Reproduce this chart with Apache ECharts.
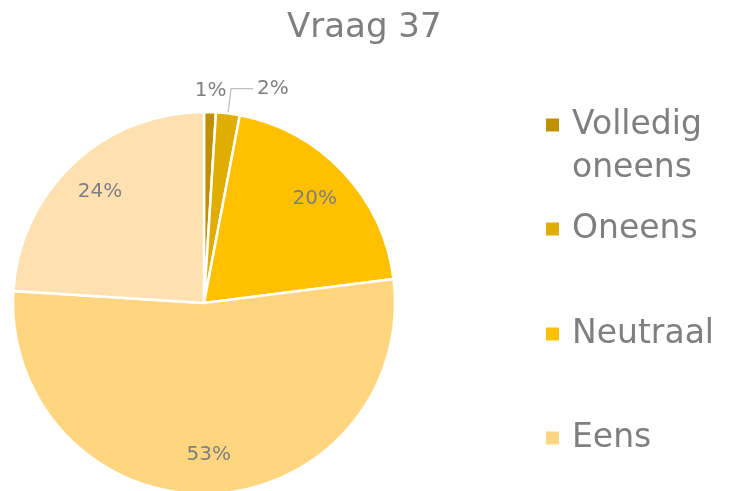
<!DOCTYPE html>
<html>
<head>
<meta charset="utf-8">
<script src="https://cdn.jsdelivr.net/npm/echarts@6/dist/echarts.min.js"></script>
<style>html,body{margin:0;padding:0;background:#fff}#c{width:732px;height:491px}</style>
</head>
<body>
<div id="c"></div>
<script>
const titleText = 'Vraag 37';
const categories = ['Volledig oneens', 'Oneens', 'Neutraal', 'Eens', 'Volledig eens'];
const values = [1, 2, 20, 53, 24];
const colors = ['#BF9000', '#DFAE00', '#FFC000', '#FFD580', '#FFE1B1'];
const legendNames = ['Volledig oneens', 'Oneens', 'Neutraal', 'Eens'];

const FONT = 'DejaVu Sans';
const GREY = '#7f7f7f';
const CX = 204, CY = 303, R = 191;
const outsideLine = ['Oneens'];
const topLabel = ['Volledig oneens'];

const chart = echarts.init(document.getElementById('c'), null, {renderer: 'canvas'});

const mainData = categories.map((n, i) => ({
  name: n, value: values[i],
  itemStyle: {color: colors[i]},
  label: {show: outsideLine.includes(n)},
  labelLine: {show: outsideLine.includes(n)}
}));
const innerLabelData = categories.map((n, i) => ({
  name: n, value: values[i],
  label: {show: !outsideLine.includes(n) && !topLabel.includes(n)}
}));
const topLabelData = categories.map((n, i) => ({
  name: n, value: values[i],
  label: {show: topLabel.includes(n)}
}));

const labelStyle = {fontFamily: FONT, fontSize: 20, color: GREY, formatter: p => p.value + '%'};

const LH = 43;
const legendCenters = [130, 234, 339, 443];
const legends = legendNames.map((n, i) => ({
  left: 544, top: i === 0 ? legendCenters[i] - LH * 1.5 : legendCenters[i] - LH / 2,
  padding: 0,
  orient: 'vertical',
  icon: 'rect', itemWidth: 15, itemHeight: 15,
  selectedMode: false,
  data: [n],
  formatter: i === 0 ?
    (name => '{a| }\n{a|' + name.split(' ').join('}\n{a|') + '}') :
    (name => '{a|' + name + '}'),
  textStyle: {
    rich: {a: {fontFamily: FONT, fontSize: 33, color: GREY, lineHeight: LH, padding: [0, 0, 0, 7]}}
  }
}));

chart.setOption({
  backgroundColor: '#fff',
  animation: false,
  title: {
    text: titleText, left: 282, top: 6,
    textStyle: {fontFamily: FONT, fontSize: 34, fontWeight: 'normal', color: GREY}
  },
  legend: legends,
  series: [
    {
      type: 'pie', center: [CX, CY], radius: [0, R],
      startAngle: 90, clockwise: true,
      itemStyle: {borderColor: '#fff', borderWidth: 2.5},
      label: Object.assign({position: 'outside', distanceToLabelLine: 4}, labelStyle),
      labelLine: {length: 25, length2: 22, lineStyle: {color: '#bfbfbf', width: 1.3}},
      emphasis: {disabled: true},
      data: mainData
    },
    {
      type: 'pie', center: [CX, CY], radius: [R * 0.56, R],
      startAngle: 90, clockwise: true, silent: true,
      itemStyle: {color: 'rgba(0,0,0,0)'},
      label: Object.assign({position: 'inside'}, labelStyle),
      labelLine: {show: false},
      data: innerLabelData
    },
    {
      type: 'pie', center: [CX, CY], radius: [R + 5, R + 31],
      startAngle: 90, clockwise: true, silent: true,
      itemStyle: {color: 'rgba(0,0,0,0)'},
      label: Object.assign({position: 'inside'}, labelStyle),
      labelLine: {show: false},
      data: topLabelData
    }
  ]
});
</script>
</body>
</html>
